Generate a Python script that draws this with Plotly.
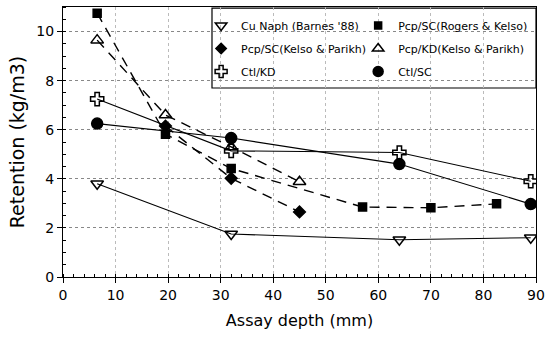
import plotly.graph_objects as go

# ---- data ----
x_cu = [6.5, 32, 64, 89]
y_cu = [3.8, 1.75, 1.52, 1.6]

x_rk = [6.5, 19.5, 32, 57, 70, 82.5]
y_rk = [10.75, 5.82, 4.42, 2.85, 2.82, 2.98]

x_kp = [19.5, 32, 45]
y_kp = [6.15, 4.02, 2.65]

x_kd = [6.5, 19.5, 32, 45]
y_kd = [9.65, 6.6, 5.3, 3.88]

x_ctlkd = [6.5, 32, 64, 89]
y_ctlkd = [7.25, 5.14, 5.07, 3.9]

x_ctlsc = [6.5, 32, 64, 89]
y_ctlsc = [6.25, 5.66, 4.6, 2.97]

names = ["Cu Naph (Barnes '88)", "Pcp/SC(Rogers & Kelso)", "Pcp/SC(Kelso & Parikh)",
         "Pcp/KD(Kelso & Parikh)", "Ctl/KD", "Ctl/SC"]

FONT = "DejaVu Sans"
DASH = "10px,7px"

series = [
    (x_cu, y_cu, names[0], "triangle-down-open", 11, "solid", 1.1, "legend"),
    (x_rk, y_rk, names[1], "square", 8, DASH, 1.4, "legend2"),
    (x_kp, y_kp, names[2], "diamond", 9, DASH, 1.4, "legend"),
    (x_kd, y_kd, names[3], "triangle-up-open", 11, DASH, 1.4, "legend2"),
    (x_ctlkd, y_ctlkd, names[4], "cross-open", 11, "solid", 1.1, "legend"),
    (x_ctlsc, y_ctlsc, names[5], "circle", 11, "solid", 1.1, "legend2"),
]

fig = go.Figure()
for i, (xs, ys, nm, sym, sz, dash, lw, lg) in enumerate(series):
    fig.add_trace(go.Scatter(
        x=xs, y=ys, mode="lines+markers", name=nm, showlegend=False,
        line=dict(color="black", width=lw, dash=dash),
        marker=dict(symbol=sym, size=sz, color="black",
                    line=dict(color="black", width=1.5)),
    ))
    fig.add_trace(go.Scatter(
        x=[None], y=[None], mode="markers", name=nm, legend=lg,
        legendgroup=f"g{i}",
        marker=dict(symbol=sym, size=sz - 1, color="black",
                    line=dict(color="black", width=1.5)),
    ))

legend_common = dict(font=dict(family=FONT, size=11, color="black"),
                     bgcolor="rgba(0,0,0,0)", borderwidth=0,
                     tracegroupgap=4, itemwidth=30,
                     yanchor="top", xanchor="left")

fig.update_layout(
    width=552, height=339,
    margin=dict(l=63, r=16, t=7, b=62),
    paper_bgcolor="white", plot_bgcolor="white",
    font=dict(family=FONT, size=14, color="black"),
    legend=dict(x=0.292, y=0.985, **legend_common),
    legend2=dict(x=0.624, y=0.985, **legend_common),
    shapes=[dict(type="rect", xref="paper", yref="paper",
                 x0=0.315, x1=1.0, y0=0.70, y1=0.996,
                 line=dict(color="black", width=1.2),
                 fillcolor="white", layer="below")],
    xaxis=dict(range=[0, 90], dtick=10, tick0=0,
               showline=True, linecolor="black", linewidth=1.2, mirror=True,
               ticks="outside", ticklen=5, tickwidth=1.2, tickcolor="black",
               minor=dict(dtick=2, ticks="inside", ticklen=3, tickcolor="black",
                          showgrid=False),
               showgrid=True, gridcolor="#bbbbbb", griddash="dot", gridwidth=1,
               zeroline=False,
               tickfont=dict(family=FONT, size=14),
               title=dict(text="Assay depth (mm)", font=dict(family=FONT, size=16),
                          standoff=12)),
    yaxis=dict(range=[0, 11], dtick=2, tick0=0,
               showline=True, linecolor="black", linewidth=1.2, mirror=True,
               ticks="outside", ticklen=5, tickwidth=1.2, tickcolor="black",
               minor=dict(dtick=0.5, ticks="inside", ticklen=3, tickcolor="black",
                          showgrid=False),
               showgrid=True, gridcolor="#888888", griddash="dot", gridwidth=1,
               zeroline=False,
               tickfont=dict(family=FONT, size=14),
               title=dict(text="Retention (kg/m3)", font=dict(family=FONT, size=19),
                          standoff=6)),
)

fig.write_html("out.html")
